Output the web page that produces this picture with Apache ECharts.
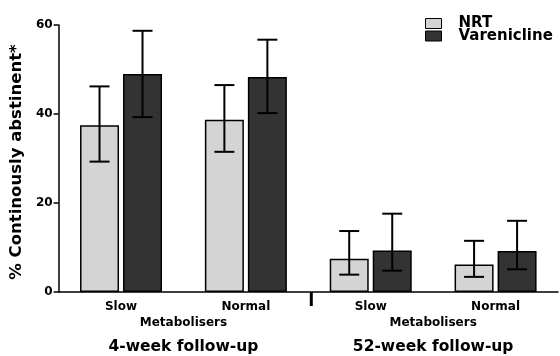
<!DOCTYPE html>
<html>
<head>
<meta charset="utf-8">
<script src="https://cdn.jsdelivr.net/npm/echarts@6/dist/echarts.min.js"></script>
<style>html,body{margin:0;padding:0;background:#fff}#c{width:560px;height:356px}</style>
</head>
<body>
<div id="c"></div>
<script>
const categories = ['Slow', 'Normal', 'Slow', 'Normal'];
const groupLabels = ['4-week follow-up', '52-week follow-up'];
const groupSubLabel = 'Metabolisers';
const seriesNames = ['NRT', 'Varenicline'];
const nrtValues = [37.5, 38.7, 7.5, 6.2];
const nrtLow = [29.3, 31.5, 3.9, 3.4];
const nrtHigh = [46.2, 46.5, 13.7, 11.5];
const vareniclineValues = [49.0, 48.3, 9.3, 9.2];
const vareniclineLow = [39.3, 40.2, 4.8, 5.1];
const vareniclineHigh = [58.7, 56.7, 17.6, 16.0];
const yTicks = [0, 20, 40, 60];

const FONT = '"DejaVu Sans", "Liberation Sans", Arial, sans-serif';
const BAR_W = 39;
const BAR_GAP = 4;
const OFF = (BAR_W + BAR_GAP) / 2;

function errRender(offset) {
  return function (params, api) {
    const cx = api.coord([api.value(0), 0])[0] + offset;
    const yl = api.coord([api.value(0), api.value(1)])[1];
    const yh = api.coord([api.value(0), api.value(2)])[1];
    const hw = 10;
    const st = { stroke: '#000', lineWidth: 2 };
    return {
      type: 'group',
      children: [
        { type: 'line', shape: { x1: cx, y1: yh, x2: cx, y2: yl }, style: st },
        { type: 'line', shape: { x1: cx - hw, y1: yh, x2: cx + hw, y2: yh }, style: st },
        { type: 'line', shape: { x1: cx - hw, y1: yl, x2: cx + hw, y2: yl }, style: st }
      ]
    };
  };
}

const chart = echarts.init(document.getElementById('c'), null, { renderer: 'canvas' });
chart.setOption({
  backgroundColor: '#fff',
  animation: false,
  textStyle: { fontFamily: FONT },
  legend: {
    data: seriesNames,
    orient: 'vertical',
    left: 425,
    top: 16,
    padding: 0,
    itemGap: -2.5,
    itemWidth: 16,
    itemHeight: 10,
    icon: 'rect',
    textStyle: { fontFamily: FONT, fontWeight: 'bold', fontSize: 15, color: '#000', lineHeight: 12.3, padding: [0, 0, 0, 12] },
    itemStyle: { borderColor: '#000', borderWidth: 1 }
  },
  grid: { left: 58, right: 2, top: 25, bottom: 64, containLabel: false },
  xAxis: [
    {
      type: 'category',
      data: categories,
      axisLine: { lineStyle: { color: '#000', width: 1.5 } },
      axisTick: { alignWithLabel: true, length: 4, lineStyle: { color: '#000', width: 1.5 } },
      axisLabel: { color: '#000', fontWeight: 'bold', fontSize: 12, fontFamily: FONT, margin: 9 }
    },
    {
      type: 'category',
      position: 'bottom',
      data: groupLabels,
      axisLine: { show: false },
      axisTick: { show: false },
      axisLabel: {
        margin: 23,
        formatter: function (v) { return '{a|' + groupSubLabel + '}\n{b|' + v + '}'; },
        rich: {
          a: { fontFamily: FONT, fontWeight: 'bold', fontSize: 12, color: '#000', lineHeight: 16 },
          b: { fontFamily: FONT, fontWeight: 'bold', fontSize: 15.5, color: '#000', lineHeight: 31 }
        }
      }
    }
  ],
  yAxis: {
    type: 'value',
    min: yTicks[0],
    max: yTicks[yTicks.length - 1],
    interval: yTicks[1] - yTicks[0],
    name: '% Continously abstinent*',
    nameLocation: 'middle',
    nameGap: 31,
    nameRotate: 90,
    nameTextStyle: { fontFamily: FONT, fontWeight: 'bold', fontSize: 16.5, color: '#000', padding: [0, 0, 0, -7] },
    axisLine: { show: true, lineStyle: { color: '#000', width: 1.5 } },
    axisTick: { show: true, length: 5, lineStyle: { color: '#000', width: 1.5 } },
    axisLabel: { color: '#000', fontWeight: 'bold', fontSize: 12, fontFamily: FONT, margin: 6 },
    splitLine: { show: false }
  },
  series: [
    {
      name: seriesNames[0],
      type: 'bar',
      data: nrtValues,
      barWidth: BAR_W,
      barGap: (BAR_GAP / BAR_W * 100) + '%',
      itemStyle: { color: '#d4d4d4', borderColor: '#000', borderWidth: 1.5 }
    },
    {
      name: seriesNames[1],
      type: 'bar',
      data: vareniclineValues,
      barWidth: BAR_W,
      itemStyle: { color: '#333333', borderColor: '#000', borderWidth: 1.5 }
    },
    {
      type: 'custom',
      renderItem: errRender(-OFF),
      encode: { x: 0, y: [1, 2] },
      data: nrtLow.map((l, i) => [i, l, nrtHigh[i]]),
      z: 10
    },
    {
      type: 'custom',
      renderItem: errRender(OFF),
      encode: { x: 0, y: [1, 2] },
      data: vareniclineLow.map((l, i) => [i, l, vareniclineHigh[i]]),
      z: 10
    },
    {
      type: 'custom',
      renderItem: function (params, api) {
        const band = api.size([1, 0])[0];
        const p = api.coord([api.value(0), 0]);
        const x = p[0] + band / 2 + 3;
        return { type: 'line', shape: { x1: x, y1: p[1], x2: x, y2: p[1] + 14 }, style: { stroke: '#000', lineWidth: 3 } };
      },
      encode: { x: 0, y: 1 },
      data: [[1, 0]],
      silent: true,
      z: 10
    }
  ]
});
</script>
</body>
</html>
